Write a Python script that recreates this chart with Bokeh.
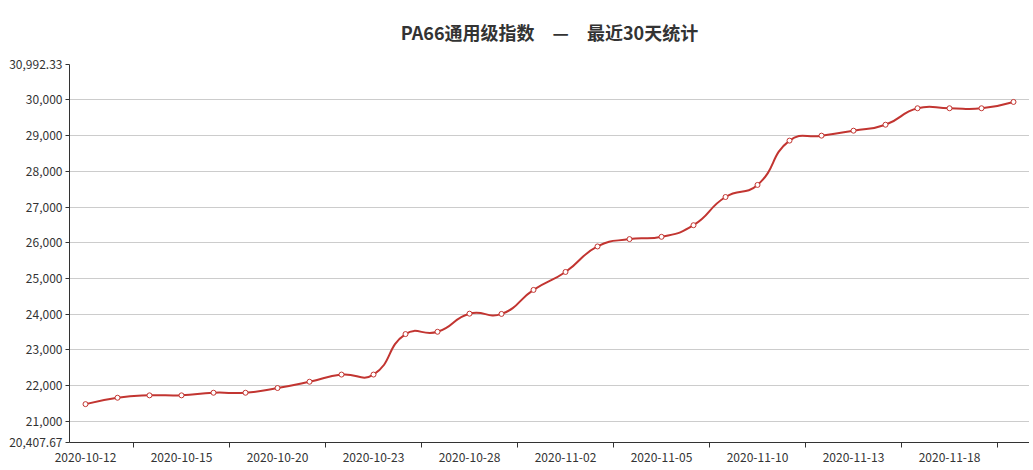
import math
from bokeh.plotting import figure
from bokeh.models import FixedTicker, NumeralTickFormatter, Range1d
from bokeh.embed import file_html
from bokeh.resources import INLINE

title_text = "PA66通用级指数　—　最近30天统计"
dates = ["2020-10-12", "2020-10-13", "2020-10-14", "2020-10-15", "2020-10-16",
         "2020-10-19", "2020-10-20", "2020-10-21", "2020-10-22", "2020-10-23",
         "2020-10-26", "2020-10-27", "2020-10-28", "2020-10-29", "2020-10-30",
         "2020-11-02", "2020-11-03", "2020-11-04", "2020-11-05", "2020-11-06",
         "2020-11-09", "2020-11-10", "2020-11-11", "2020-11-12", "2020-11-13",
         "2020-11-16", "2020-11-17", "2020-11-18", "2020-11-19", "2020-11-20"]
values = [21482, 21661, 21728, 21728, 21801, 21801, 21933, 22109, 22310, 22310,
          23444, 23508, 24015, 24008, 24680, 25183, 25897, 26103, 26167, 26492,
          27282, 27620, 28861, 29000, 29139, 29306, 29767, 29767, 29767, 29944]
y_min, y_max = 20407.67, 30992.33
y_ticks = [20407.67, 21000, 22000, 23000, 24000, 25000, 26000, 27000, 28000,
           29000, 30000, 30992.33]
label_idx = list(range(0, len(dates), 3))
boundary_ticks = [i + 1.5 for i in range(0, len(dates) - 1, 3)]

LINE = "#c23531"
TXT = "#333333"
FONT = "Noto Sans CJK SC"

p = figure(width=1029, height=466, output_backend="svg", toolbar_location=None,
           x_range=Range1d(-0.5, len(dates) - 0.5), y_range=Range1d(y_min, y_max),
           min_border_left=69, min_border_right=0, min_border_top=62,
           min_border_bottom=24)
p.outline_line_color = None
p.background_fill_color = "white"
p.border_fill_color = "white"

p.title.text = title_text
p.title.align = "center"
p.title.vertical_align = "top"
p.title.text_font = FONT
p.title.text_font_size = "18px"
p.title.text_font_style = "bold"
p.title.text_color = TXT
p.title.standoff = 36

# smooth curve (echarts-style bezier smoothing computed in pixel space)
sx = 960.0 / len(dates)
sy = 380.0 / (y_max - y_min)
n = len(values)
X = [i * sx for i in range(n)]
Y = [v * sy for v in values]
sm = 0.5
cin, cout = [], []
for i in range(n):
    if i == 0 or i == n - 1:
        cin.append((X[i], Y[i]))
        cout.append((X[i], Y[i]))
        continue
    a, b = i - 1, i + 1
    vx, vy = X[b] - X[a], Y[b] - Y[a]
    d0 = math.hypot(X[i] - X[a], Y[i] - Y[a])
    d1 = math.hypot(X[b] - X[i], Y[b] - Y[i])
    r = d1 / (d0 + d1)
    cout.append((X[i] + vx * sm * r, Y[i] + vy * sm * r))
    cin.append((X[i] - vx * sm * (1 - r), Y[i] - vy * sm * (1 - r)))

seg = dict(x0=[], y0=[], x1=[], y1=[], cx0=[], cy0=[], cx1=[], cy1=[])
for i in range(n - 1):
    seg["x0"].append(X[i] / sx); seg["y0"].append(Y[i] / sy)
    seg["x1"].append(X[i + 1] / sx); seg["y1"].append(Y[i + 1] / sy)
    seg["cx0"].append(cout[i][0] / sx); seg["cy0"].append(cout[i][1] / sy)
    seg["cx1"].append(cin[i + 1][0] / sx); seg["cy1"].append(cin[i + 1][1] / sy)

p.bezier(x0=seg["x0"], y0=seg["y0"], x1=seg["x1"], y1=seg["y1"],
         cx0=seg["cx0"], cy0=seg["cy0"], cx1=seg["cx1"], cy1=seg["cy1"],
         line_color=LINE, line_width=2, line_cap="round")
p.scatter(x=list(range(n)), y=values, marker="circle", size=5,
          fill_color="white", line_color=LINE, line_width=1)

# axes
yt = FixedTicker(ticks=y_ticks)
p.yaxis.ticker = yt
p.yaxis.formatter = NumeralTickFormatter(format="0,0.[00]")
p.yaxis.major_tick_out = 4
p.yaxis.major_tick_in = 0
p.yaxis.minor_tick_line_color = None
p.yaxis.axis_line_color = TXT
p.yaxis.major_tick_line_color = TXT
p.yaxis.major_label_text_color = TXT
p.yaxis.major_label_text_font = FONT
p.yaxis.major_label_text_font_size = "12px"
p.yaxis.major_label_standoff = 3

p.xaxis.ticker = FixedTicker(ticks=label_idx, minor_ticks=boundary_ticks)
p.xaxis.major_label_overrides = {i: dates[i] for i in label_idx}
p.xaxis.major_tick_line_color = None
p.xaxis.minor_tick_line_color = TXT
p.xaxis.minor_tick_out = 5
p.xaxis.minor_tick_in = 0
p.xaxis.axis_line_color = TXT
p.xaxis.major_label_text_color = TXT
p.xaxis.major_label_text_font = FONT
p.xaxis.major_label_text_font_size = "12px"
p.xaxis.major_label_standoff = 4

p.xgrid.visible = False
p.ygrid.ticker = yt
p.ygrid.grid_line_color = "#cccccc"
p.ygrid.grid_line_width = 1

open("out.html", "w").write(file_html(p, INLINE))
